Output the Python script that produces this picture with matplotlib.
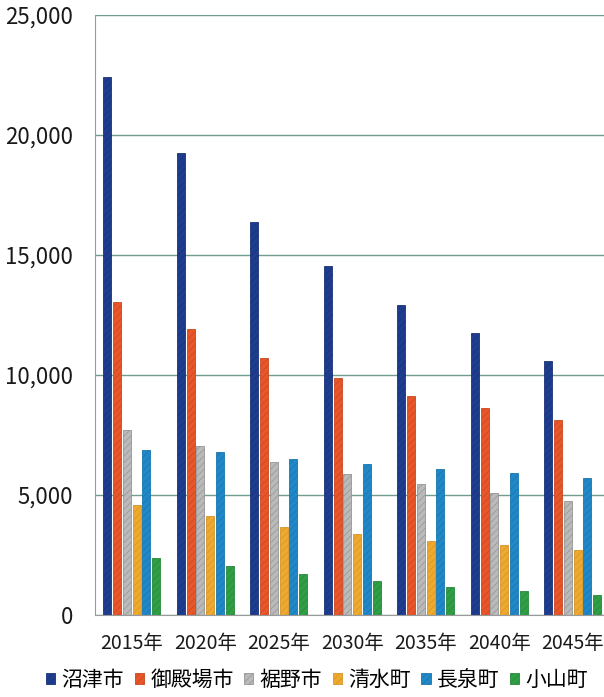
import matplotlib
matplotlib.use('Agg')
import matplotlib.pyplot as plt
import numpy as np

plt.rcParams['font.family'] = ['Noto Sans CJK JP', 'DejaVu Sans']
plt.rcParams['hatch.linewidth'] = 0.5

# 将来人口の推計（人）
years = ['2015年', '2020年', '2025年', '2030年', '2035年', '2040年', '2045年']
towns = ['沼津市', '御殿場市', '裾野市', '清水町', '長泉町', '小山町']

numazu = [22400, 19250, 16380, 14540, 12920, 11750, 10580]
gotemba = [13040, 11920, 10710, 9880, 9130, 8630, 8130]
susono = [7710, 7040, 6380, 5880, 5460, 5080, 4750]
shimizu = [4580, 4130, 3670, 3380, 3080, 2920, 2710]
nagaizumi = [6880, 6790, 6500, 6290, 6080, 5920, 5710]
oyama = [2380, 2040, 1710, 1420, 1170, 1000, 830]

series = [numazu, gotemba, susono, shimizu, nagaizumi, oyama]
colors = ['#1f3d8f', '#e8562a', '#bababa', '#efa92f', '#2088c8', '#2f9f45']
hatch_colors = ['#19337a', '#c84822', '#959595', '#d59526', '#1a76ad', '#27883a']

fig = plt.figure(figsize=(6.04, 6.97), dpi=100)
ax = fig.add_axes([95 / 604, 1 - 615 / 697, 1 - 95 / 604, 600 / 697])

x = np.arange(len(years))
step = 0.133
width = 0.11
for i, (vals, c, hc) in enumerate(zip(series, colors, hatch_colors)):
    off = (i - 2.5) * step
    ax.bar(x + off, vals, width, color=c, edgecolor=hc, hatch='/////',
           linewidth=0.6, label=towns[i], zorder=3)

ax.set_ylim(0, 25000)
ax.set_xlim(-0.5, 6.425)
ax.set_yticks(range(0, 25001, 5000))
ax.set_yticklabels(['0', '5,000', '10,000', '15,000', '20,000', '25,000'])
ax.set_xticks(x)
ax.set_xticklabels(years)
ax.tick_params(axis='y', length=0, pad=16, labelsize=16, colors='#1a1a1a')
ax.tick_params(axis='x', length=0, pad=13, labelsize=14, colors='#1a1a1a')
ax.yaxis.grid(True, color='#6f9e8e', linewidth=1.0, zorder=0)
for s in ['top', 'right']:
    ax.spines[s].set_visible(False)
ax.spines['left'].set_color('#9a9a9a')
ax.spines['bottom'].set_color('#9a9a9a')
ax.spines['bottom'].set_zorder(4)

fig.legend(loc='center', bbox_to_anchor=(0.525, 0.024), ncol=6, frameon=False,
           fontsize=15, handlelength=0.45, handleheight=0.45, handletextpad=0.3,
           columnspacing=0.5, borderpad=0.1)

fig.savefig('out.png', dpi=100)
